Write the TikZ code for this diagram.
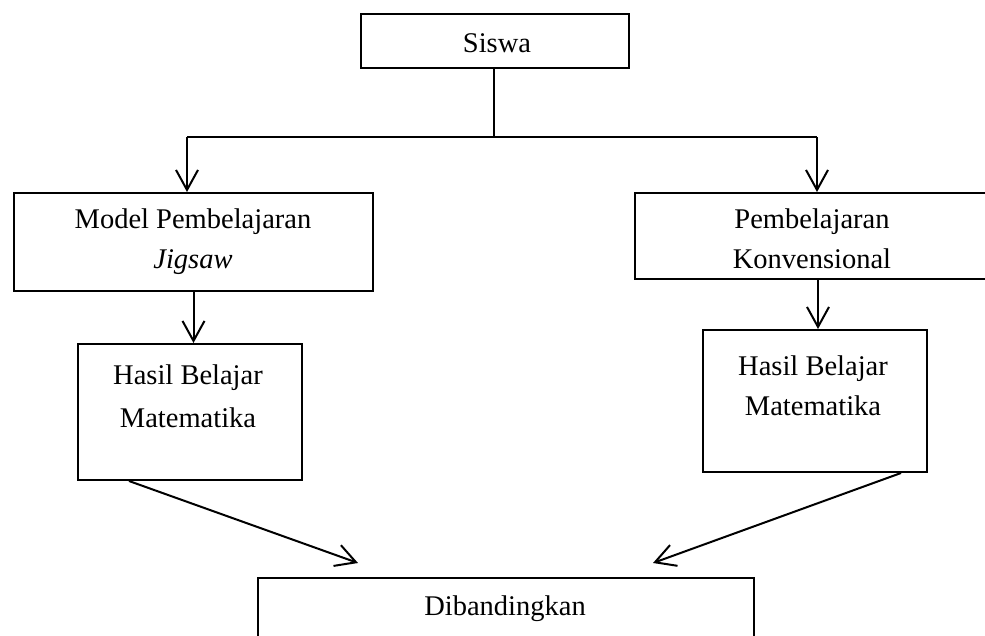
\documentclass[tikz,border=0pt]{standalone}
\usepackage{fontspec}
\setmainfont{Liberation Serif}
\usetikzlibrary{arrows.meta}
\begin{document}
\begin{tikzpicture}[x=1pt,y=-1pt,
  box/.style={draw,line width=2pt,inner sep=0pt,anchor=north west},
  lbl/.style={anchor=base,inner sep=0pt,font=\fontsize{28.5}{34}\selectfont},
  conn/.style={line width=2pt},
  arr/.style={conn,-{Straight Barb[length=20pt,width=22pt]}}]
\useasboundingbox (0,0) rectangle (985,635);
% boxes
\node[box,minimum width=268pt,minimum height=54pt] (siswa) at (360,13) {};
\node[box,minimum width=359pt,minimum height=98pt] (jig) at (13,192) {};
\node[box,minimum width=360pt,minimum height=86pt] (konv) at (634,192) {};
\node[box,minimum width=224pt,minimum height=136pt] (hasil1) at (77,343) {};
\node[box,minimum width=224pt,minimum height=142pt] (hasil2) at (702,329) {};
\node[box,minimum width=496pt,minimum height=80pt] (dib) at (257,577) {};
% labels
\node[lbl] (tsiswa) at (497,52) {Siswa};
\node[lbl] (tjig1) at (193,228) {Model Pembelajaran};
\node[lbl] (tjig2) at (193,268) {\itshape Jigsaw};
\node[lbl] (tkonv1) at (812,228) {Pembelajaran};
\node[lbl] (tkonv2) at (812,268) {Konvensional};
\node[lbl] (th1a) at (188,384) {Hasil Belajar};
\node[lbl] (th1b) at (188,427) {Matematika};
\node[lbl] (th2a) at (813,375) {Hasil Belajar};
\node[lbl] (th2b) at (813,415) {Matematika};
\node[lbl] (tdib) at (505,615) {Dibandingkan};
% connectors
\coordinate (split) at (494,137);
\coordinate (L) at (187,137);
\coordinate (R) at (817,137);
\coordinate (tipL) at (358,563);
\coordinate (tipR) at (653,563);
\coordinate (kd) at (818,278);
\draw[conn] (siswa.south -| split) -- (split);
\draw[conn] (L) -- (R);
\draw[arr] (L) -- (L |- jig.north);
\draw[arr] (R) -- (R |- konv.north);
\draw[arr] (jig.south) -- (jig.south |- hasil1.north);
\draw[arr] (kd) -- (kd |- hasil2.north);
\draw[arr] ([xshift=-61pt]hasil1.south) -- (tipL);
\draw[arr] ([xshift=86pt]hasil2.south) -- (tipR);
\end{tikzpicture}
\end{document}
